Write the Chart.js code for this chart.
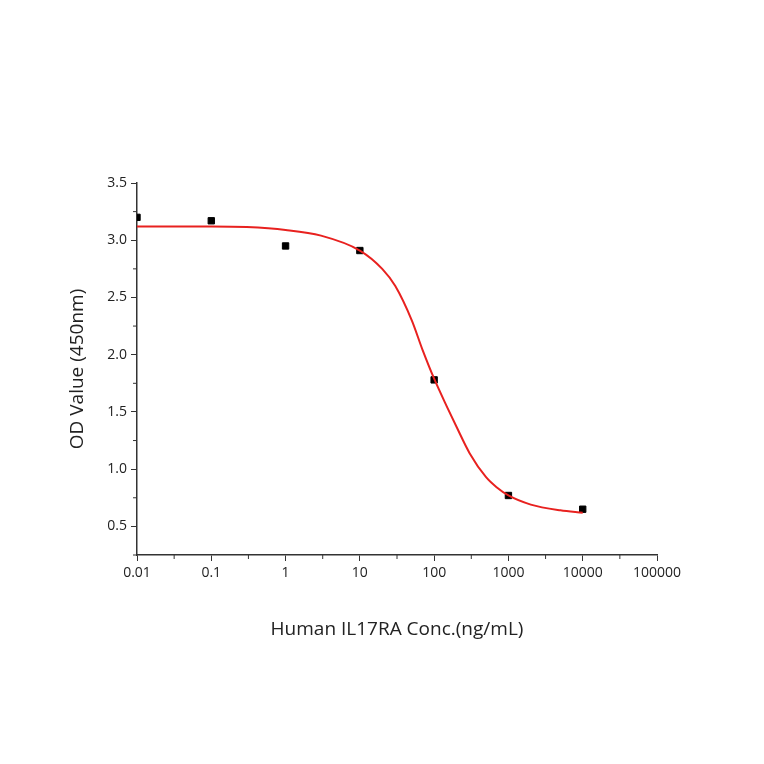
<!DOCTYPE html>
<html><head><meta charset="utf-8">
<script src="https://cdn.jsdelivr.net/npm/chart.js@4"></script>
<style>html,body{margin:0;background:#fff}#w{width:764px;height:764px}</style>
</head><body><div id="w"><canvas id="c"></canvas></div>
<script>
const pointX = [0.01, 0.1, 1, 10, 100, 1000, 10000];
const pointY = [3.2, 3.17, 2.95, 2.91, 1.78, 0.77, 0.65];
const curveX = [0.01, 0.1, 0.3, 1, 3, 10, 20, 30, 50, 70, 100, 150, 200, 300, 500, 700, 1000, 2000, 5000, 10000];
const curveY = [3.12, 3.12, 3.115, 3.09, 3.04, 2.91, 2.75, 2.60, 2.30, 2.04, 1.79, 1.54, 1.37, 1.14, 0.93, 0.84, 0.77, 0.69, 0.64, 0.62];
const xTicks = [0.01, 0.1, 1, 10, 100, 1000, 10000, 100000];
const yTicks = [0.5, 1.0, 1.5, 2.0, 2.5, 3.0, 3.5];

const minorTicks = {
  id: 'minor',
  afterDraw(chart) {
    const ctx = chart.ctx, x = chart.scales.x, y = chart.scales.y;
    ctx.save(); ctx.strokeStyle = '#333'; ctx.lineWidth = 1;
    ctx.beginPath();
    for (let i = 0; i < xTicks.length - 1; i++) {
      const px = x.getPixelForValue(Math.sqrt(xTicks[i] * xTicks[i + 1]));
      ctx.moveTo(px, y.bottom); ctx.lineTo(px, y.bottom + 4);
    }
    for (let v = 0.25; v < 3.5; v += 0.5) {
      const py = y.getPixelForValue(v);
      ctx.moveTo(x.left, py); ctx.lineTo(x.left - 4, py);
    }
    ctx.stroke(); ctx.restore();
  }
};

new Chart(document.getElementById('c'), {
  type: 'scatter',
  data: { datasets: [
    { type: 'line', data: curveX.map((v, i) => ({x: v, y: curveY[i]})), borderColor: '#e8211f', borderWidth: 2, pointRadius: 0, cubicInterpolationMode: 'monotone', fill: false },
    { data: pointX.map((v, i) => ({x: v, y: pointY[i]})), pointStyle: 'rect', pointRadius: 4.5, backgroundColor: '#000', borderColor: '#000' }
  ]},
  plugins: [minorTicks],
  options: {
    responsive: true, maintainAspectRatio: false, animation: false,
    layout: { padding: { left: 62, right: 107, top: 183, bottom: 119 } },
    plugins: { legend: { display: false }, tooltip: { enabled: false } },
    scales: {
      x: {
        type: 'logarithmic', min: 0.01, max: 100000,
        afterBuildTicks: s => { s.ticks = xTicks.map(v => ({value: v})); },
        afterFit: s => { s.height = 90; },
        ticks: { callback: v => String(v), color: '#222', font: { family: 'Open Sans', size: 14 }, maxRotation: 0, padding: 4 },
        grid: { drawOnChartArea: false, tickLength: 6, color: '#333' },
        border: { color: '#333', width: 1.5 },
        title: { display: true, text: 'Human IL17RA Conc.(ng/mL)', color: '#222', font: { family: 'Open Sans', size: 19 }, padding: { top: 4 } }
      },
      y: {
        min: 0.25, max: 3.5,
        afterBuildTicks: s => { s.ticks = yTicks.map(v => ({value: v})); },
        afterFit: s => { s.width = 75; },
        ticks: { callback: v => v.toFixed(1), color: '#222', font: { family: 'Open Sans', size: 14 }, padding: 4 },
        grid: { drawOnChartArea: false, tickLength: 6, color: '#333' },
        border: { color: '#333', width: 1.5 },
        title: { display: true, text: 'OD Value (450nm)', color: '#222', font: { family: 'Open Sans', size: 19 }, padding: { bottom: 4 } }
      }
    }
  }
});
</script></body></html>
